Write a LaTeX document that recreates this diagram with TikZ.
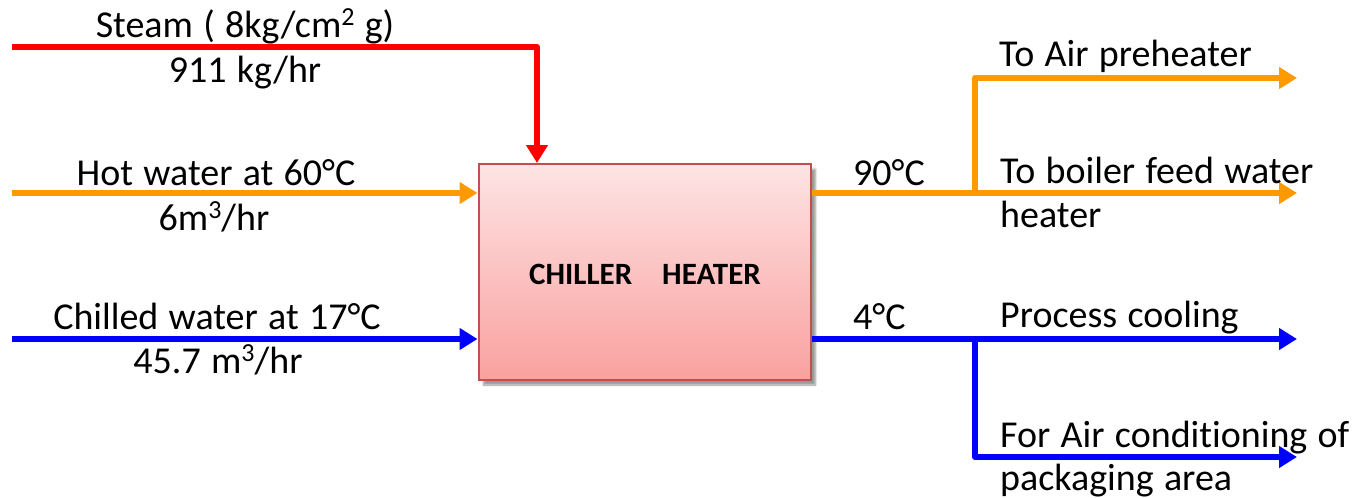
\documentclass[tikz,border=0pt]{standalone}
\usepackage{fontspec}
\setmainfont{Carlito}[Ligatures={NoCommon}, WordSpace=1.2]
\usetikzlibrary{arrows.meta,shadows.blur}
\definecolor{pipered}{HTML}{FF0000}
\definecolor{pipeorange}{HTML}{FF9900}
\definecolor{pipeblue}{HTML}{0000FF}
\definecolor{boxborder}{HTML}{C0504D}
\definecolor{boxtop}{HTML}{FDE4E4}
\definecolor{boxbot}{HTML}{F9A19F}
\newcommand\mysupr[1]{\raisebox{0.3em}{\fontsize{26}{26}\selectfont #1}}
\begin{document}
\begin{tikzpicture}[x=1pt,y=-1pt,
  lbl/.style={font=\fontsize{38}{45}\selectfont, inner sep=0pt, text=black},
  pipe/.style={line width=6pt, line join=round},
  flowtip/.style={-{Triangle[length=18pt,width=21pt]}},
  unitbox/.style={draw=boxborder, line width=2pt, top color=boxtop, bottom color=boxbot,
    minimum width=332pt, minimum height=216pt, inner sep=0pt,
    blur shadow={shadow xshift=5pt, shadow yshift=-5pt, shadow opacity=40, shadow blur steps=6}}
]
\useasboundingbox (0,0) rectangle (1355,498);

% unit
\node[unitbox] (box) at (644.5,272) {};
\node[font=\bfseries\fontsize{31}{37}\selectfont, inner sep=0pt, anchor=base] (boxtext) at (645,284) {CHILLER\hspace{30pt}HEATER};

% coordinates
\coordinate (s0) at (12,47);
\coordinate (sd) at (537,47);
\coordinate (h0) at (12,193);
\coordinate (c0) at (12,339);
\coordinate (ob) at (975,193);
\coordinate (oe) at (1297,193);
\coordinate (ou) at (1297,78);
\coordinate (cb) at (975,339);
\coordinate (ce) at (1297,339);
\coordinate (cl) at (1297,457);

% inputs
\draw[pipe, pipered, flowtip] (s0) -- (sd) -- (sd |- box.north);
\draw[pipe, pipeorange, flowtip] (h0) -- (h0 -| box.west);
\draw[pipe, pipeblue, flowtip] (c0) -- (c0 -| box.west);

% outputs
\draw[pipe, pipeorange, flowtip] (box.east |- ob) -- (oe);
\draw[pipe, pipeorange, flowtip] (ob) -- (ob |- ou) -- (ou);
\draw[pipe, pipeblue, flowtip] (box.east |- cb) -- (ce);
\draw[pipe, pipeblue, flowtip] (cb) -- (cb |- cl) -- (cl);

% labels left
\node[lbl, anchor=base] (lsteam) at (245,37) {Steam ( 8kg/cm\mysupr{2} g)};
\node[lbl, anchor=base] (lsteamq) at (245,82) {911 kg/hr};
\node[lbl, anchor=base] (lhot) at (216,185) {Hot water at 60°C};
\node[lbl, anchor=base] (lhotq) at (214,230) {6m\mysupr{3}/hr};
\node[lbl, anchor=base] (lchill) at (217,329) {Chilled water at 17°C};
\node[lbl, anchor=base] (lchillq) at (218,373) {45.7 m\mysupr{3}/hr};

% labels right
\node[lbl, anchor=base west] (l90) at (853,185) {90°C};
\node[lbl, anchor=base west] (l4) at (853,329) {4°C};
\node[lbl, anchor=base west] (lair) at (999,66) {To Air preheater};
\node[lbl, anchor=base west] (lboil) at (1000,183) {To boiler feed water};
\node[lbl, anchor=base west] (lboil2) at (1000,227) {heater};
\node[lbl, anchor=base west] (lproc) at (1000,327) {Process cooling};
\node[lbl, anchor=base west] (lac) at (1000,447) {For Air conditioning of};
\node[lbl, anchor=base west] (lac2) at (1000,490) {packaging area};
\end{tikzpicture}
\end{document}
